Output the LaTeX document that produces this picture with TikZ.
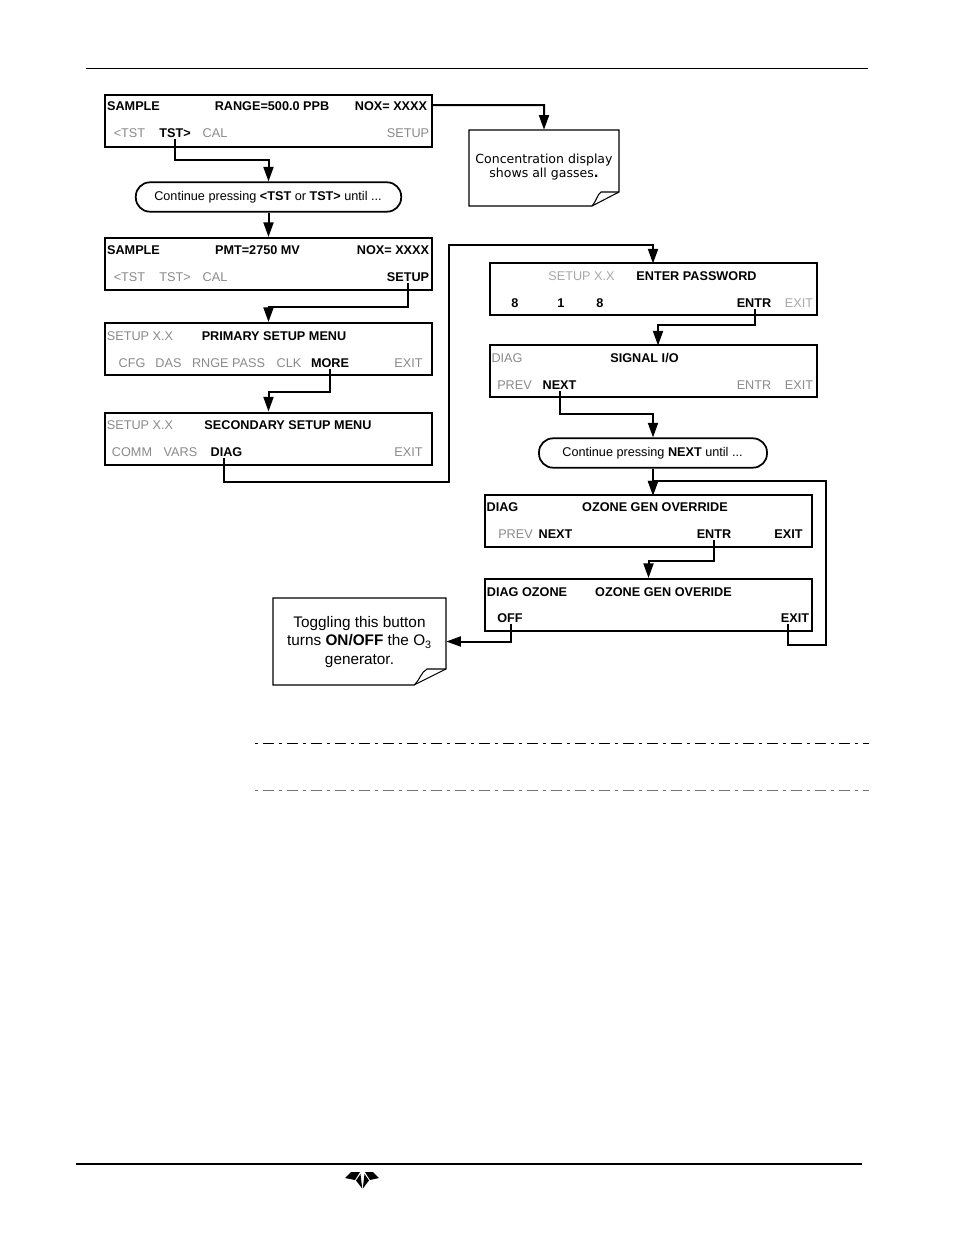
\documentclass[tikz,border=0pt]{standalone}
\usepackage{fontspec}
\setmainfont{Liberation Sans}
\newfontfamily\notefont{DejaVu Sans}
\usetikzlibrary{arrows.meta}
\definecolor{dim}{HTML}{8A8A8A}
\definecolor{dimmer}{HTML}{A8A8A8}
\tikzset{
 screen/.style={draw=black,line width=1.5pt,fill=white,inner sep=0pt,minimum width=245.25pt,minimum height=39pt},
 pill/.style={draw=black,line width=1.3pt,fill=white,rounded corners=10.5pt,inner sep=0pt,minimum height=22pt},
 pilltxt/.style={font=\fontsize{9.5}{11}\selectfont,inner sep=0pt},
 on/.style={anchor=base,yshift=-0.6pt,inner xsep=0pt,inner ysep=1pt,font=\fontsize{9.5}{11}\bfseries\selectfont,text=black},
 off/.style={anchor=base,yshift=-0.6pt,inner xsep=0pt,inner ysep=1pt,font=\fontsize{9.5}{11}\selectfont,text=dim},
 offl/.style={off,text=dimmer},
 conn/.style={line width=1.5pt,draw=black,-{Triangle[length=11pt,width=7.5pt]}},
 notebox/.style={inner sep=0pt},
 paper/.style={draw=black,line width=0.8pt},
 notetxt/.style={align=center,inner sep=0pt},
 rule/.style={draw=black,line width=0.75pt},
 dashrule/.style={line width=0.75pt,dash pattern=on 8.5pt off 3.5pt on 2.5pt off 3.5pt,dash phase=12pt},
 petal/.style={fill=black,draw=none}
}
\begin{document}
\begin{tikzpicture}[x=0.75pt,y=-0.75pt]
\useasboundingbox (0,0) rectangle (954,1235);
% page rules
\draw[rule] (86,68) -- (868,68);
\draw[draw=black,line width=1.5pt] (76,1164) -- (862,1164);
\draw[dashrule,draw=black] (255,743) -- (869,743);
\draw[dashrule,draw=black!55] (255,790) -- (869,790);
% screens
\node[screen] (s1) at (268.5,120.5) {};
\node[pill,minimum width=199pt] (p1) at (268.5,197) {};
\node[screen] (s2) at (268.5,264) {};
\node[screen] (s3) at (268.5,349) {};
\node[screen] (s4) at (268.5,438.5) {};
\node[screen] (s5) at (653,289) {};
\node[screen] (s6) at (653,371) {};
\node[pill,minimum width=171pt] (p2) at (653,453) {};
\node[screen] (s7) at (648.5,521) {};
\node[screen] (s8) at (648.5,605) {};
% notes
\node[notebox,minimum width=112.5pt,minimum height=57pt] (n1) at (544,168) {};
\draw[paper] (469,130) -- (619,130) -- (619,192) -- (592,206) -- (469,206) -- cycle;
\draw[paper] (592,206) .. controls (597,200) and (597,195) .. (601,192) -- (619,192);
\node[notetxt,font=\notefont\fontsize{9.4}{11}\selectfont] (n1t) at (544,167) {Concentration display\\shows all gasses\textbf{.}};
\node[notebox,minimum width=129.75pt,minimum height=65.25pt] (n2) at (359.5,641.5) {};
\draw[paper] (273,598) -- (446,598) -- (446,669) -- (414,685) -- (273,685) -- cycle;
\draw[paper] (414,685) .. controls (420,680) and (421,672) .. (427,669) -- (446,669);
\node[notetxt,font=\fontsize{11.5}{13.9}\selectfont] (n2t) at (359.5,642) {Toggling this button\\turns \textbf{ON/OFF} the O\textsubscript{3}\\generator.};
% screen 1
\node[on] (a1) at (133.5,109.5) {SAMPLE};
\node[on] (a2) at (272,109.5) {RANGE=500.0 PPB};
\node[on] (a3) at (391,109.5) {NOX= XXXX};
\node[off] (a4) at (129.5,136.5) {<TST};
\node[on] (tst) at (175,136.5) {TST>};
\node[off] (a6) at (215,136.5) {CAL};
\node[off] (a7) at (408,136.5) {SETUP};
% pill 1
\node[pilltxt] (p1t) at (268,197) {Continue pressing \textbf{<TST} or \textbf{TST>} until ...};
% screen 2
\node[on] (b1) at (133.5,253.5) {SAMPLE};
\node[on] (b2) at (257.5,253.5) {PMT=2750 MV};
\node[on] (b3) at (393,253.5) {NOX= XXXX};
\node[off] (b4) at (129.5,280.5) {<TST};
\node[off] (b5) at (175,280.5) {TST>};
\node[off] (b6) at (215,280.5) {CAL};
\node[on] (setup) at (408,280.5) {SETUP};
% screen 3
\node[off] (c1) at (140,339.5) {SETUP X.X};
\node[on] (c2) at (274,339.5) {PRIMARY SETUP MENU};
\node[off] (c3) at (132,366.5) {CFG};
\node[off] (c4) at (168.5,366.5) {DAS};
\node[off] (c5) at (228.5,366.5) {RNGE PASS};
\node[off] (c6) at (289,366.5) {CLK};
\node[on] (more) at (330,366.5) {MORE};
\node[off] (c8) at (408.5,366.5) {EXIT};
% screen 4
\node[off] (d1) at (140,428.5) {SETUP X.X};
\node[on] (d2) at (288,428.5) {SECONDARY SETUP MENU};
\node[off] (d3) at (132,455.5) {COMM};
\node[off] (d4) at (180.5,455.5) {VARS};
\node[on] (diag) at (226.5,455.5) {DIAG};
\node[off] (d6) at (408.5,455.5) {EXIT};
% screen 5
\node[offl] (e1) at (581.5,279.5) {SETUP X.X};
\node[on] (e2) at (696.5,279.5) {ENTER PASSWORD};
\node[on] (e3) at (515,306.5) {8};
\node[on] (e4) at (561,306.5) {1};
\node[on] (e5) at (600,306.5) {8};
\node[on] (entr1) at (754,306.5) {ENTR};
\node[offl] (e7) at (799,306.5) {EXIT};
% screen 6
\node[off] (f1) at (507,361.5) {DIAG};
\node[on] (f2) at (644.5,361.5) {SIGNAL I/O};
\node[off] (f3) at (514.5,388.5) {PREV};
\node[on] (next) at (559.5,388.5) {NEXT};
\node[off] (f5) at (754,388.5) {ENTR};
\node[off] (f6) at (799,388.5) {EXIT};
% pill 2
\node[pilltxt] (p2t) at (652.5,453) {Continue pressing \textbf{NEXT} until ...};
% screen 7
\node[on] (g1) at (502.5,510.5) {DIAG};
\node[on] (g2) at (655,510.5) {OZONE GEN OVERRIDE};
\node[off] (g3) at (515.5,537.5) {PREV};
\node[on] (g4) at (555.5,537.5) {NEXT};
\node[on] (entr2) at (714,537.5) {ENTR};
\node[on] (g6) at (788.5,537.5) {EXIT};
% screen 8
\node[on] (h1) at (527,595.5) {DIAG OZONE};
\node[on] (h2) at (663.5,595.5) {OZONE GEN OVERIDE};
\node[on] (offb) at (510,621.5) {OFF};
\node[on] (exitb) at (795,621.5) {EXIT};
% bend points
\coordinate (k1) at (268.5,160);
\coordinate (k2) at (268.5,307);
\coordinate (k3) at (268.5,392);
\coordinate (k4a) at (449,482);
\coordinate (k4b) at (653,245);
\coordinate (k5) at (658,325);
\coordinate (k6) at (653,414);
\coordinate (k7) at (648.5,561);
\coordinate (k8) at (544,105);
\coordinate (k9a) at (826,645);
\coordinate (k9b) at (653,481);
\coordinate (t7) at (653,495.5);
\coordinate (t6) at (658,345.5);
\coordinate (t3) at (653,263.5);
% connectors
\draw[conn] ([yshift=11.6pt]s1.east) -- (k8) -- (n1.north);
\draw[conn] (tst.south) |- (k1) -- (p1.north);
\draw[conn] (p1.south) -- (s2.north);
\draw[conn] (setup.south) |- (k2) -- (s3.north);
\draw[conn] (more.south) |- (k3) -- (s4.north);
\draw[conn] ([xshift=-1.8pt]diag.south) |- (k4a) |- (k4b) -- (t3);
\draw[conn] ([xshift=0.75pt]entr1.south) |- (k5) -- (t6);
\draw[conn] (next.south) |- (k6) -- (p2.north);
\draw[conn] (p2.south) -- (t7);
\draw[conn] (entr2.south) |- (k7) -- (s8.north);
\draw[conn] ([xshift=0.75pt]offb.south) |- (n2.east);
\draw[conn] ([xshift=-5.25pt]exitb.south) |- (k9a) |- (k9b) -- (t7);
% logo
\path[petal] (345,1178) -- (351,1172) -- (360,1172) -- (355,1180) -- cycle;
\path[petal] (356,1180.5) -- (360.5,1174) -- (362.2,1188.5) -- cycle;
\path[petal] (369,1180.5) -- (364.5,1174) -- (362.8,1188.5) -- cycle;
\path[petal] (379,1178) -- (373,1172) -- (365,1172) -- (370,1180) -- cycle;
\end{tikzpicture}
\end{document}
